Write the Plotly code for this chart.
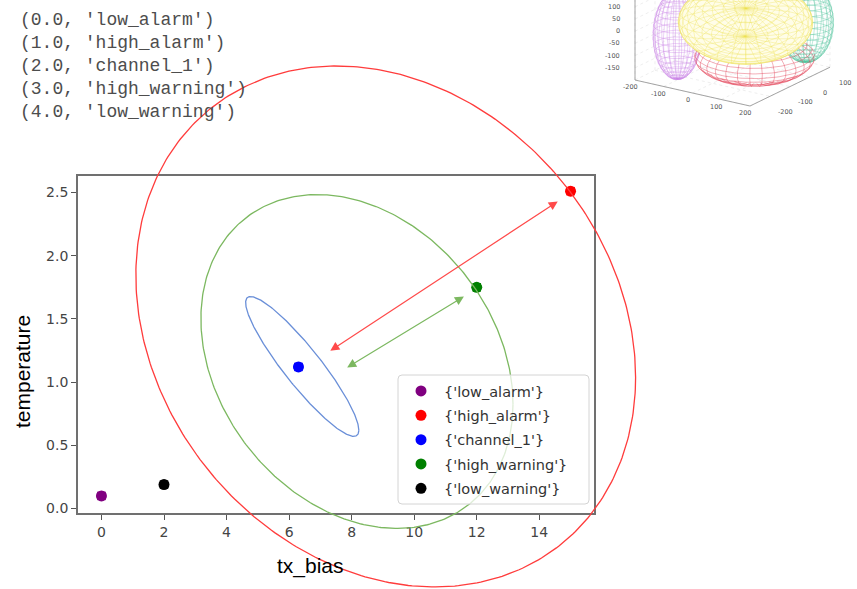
import numpy as np
import plotly.graph_objects as go

W, H = 857, 589

# ---------------- data ----------------
categories = ['low_alarm', 'high_alarm', 'channel_1', 'high_warning', 'low_warning']
category_codes = [0.0, 1.0, 2.0, 3.0, 4.0]
tx_bias = [0.0, 15.0, 6.3, 12.0, 2.0]
temperature = [0.10, 2.51, 1.12, 1.75, 0.19]
point_colors = ['#800080', '#ff0000', '#0000ff', '#008000', '#000000']

x_tick_vals = [0, 2, 4, 6, 8, 10, 12, 14]
y_tick_vals = [0.0, 0.5, 1.0, 1.5, 2.0, 2.5]

# confidence ellipses (data units): centre, half extents, phase between x and y
ell_cx = [9.09, 8.17, 6.42]
ell_cy = [1.44, 1.163, 1.124]
ell_rx = [7.99, 4.99, 1.81]
ell_ry = [2.06, 1.32, 0.553]
ell_phase_deg = [101.3, 104.8, 155.7]
ell_colors = ['#ff3c3c', '#7cb860', '#6a8fd8']

# double-headed arrows
arrow_head_x = [14.59, 11.59]
arrow_head_y = [2.429, 1.677]
arrow_tail_x = [7.27, 7.81]
arrow_tail_y = [1.24, 1.108]
arrow_colors = ['#ff4a4a', '#7cb860']

# 3D inset (ellipsoid wireframes), drawn back to front
inset_x_ticks = [-200, -100, 0, 100, 200]
inset_y_ticks = [-200, -100, 0, 100]
inset_z_ticks = [-150, -100, -50, 0, 50, 100]
ellipsoid_center = [(-150, -60, -58), (150, 150, -11), (10, 97, -165), (0, 65, -16)]
ellipsoid_radii = [(70, 70, 180), (80, 80, 160), (172, 172, 92), (192, 230, 67)]
ellipsoid_axis = [(0, 0, 1), (0, 0, 1), (0, 0, 1), (0.502, -0.753, -0.419)]
ellipsoid_line = ['rgba(200,130,230,0.65)', 'rgba(80,195,155,0.65)',
                  'rgba(225,60,80,0.75)', 'rgba(236,224,80,0.6)']
ellipsoid_fill = [None, None, None, 'rgba(255,253,232,1)']
ellipsoid_front_only = [False, False, True, False]
ellipsoid_grid = [(20, 24), (20, 24), (14, 30), (17, 28)]

# ---------------- layout geometry ----------------
X_RANGE = [-0.75, 15.75]
Y_RANGE = [-0.035, 2.63]
BOX_L, BOX_R, BOX_T, BOX_B = 78, 594, 176, 513
LEG_L, LEG_R, LEG_T, LEG_B = 398, 589, 375, 504

sx = (BOX_R - BOX_L) / (X_RANGE[1] - X_RANGE[0])
sy = (BOX_B - BOX_T) / (Y_RANGE[1] - Y_RANGE[0])
X2_RANGE = [X_RANGE[0] - BOX_L / sx, X_RANGE[1] + (W - BOX_R) / sx]
Y2_RANGE = [Y_RANGE[0] - (H - BOX_B) / sy, Y_RANGE[1] + BOX_T / sy]

fig = go.Figure()

# ellipses on a full-figure overlay so they are not clipped by the box
t = np.linspace(0, 2 * np.pi, 400)
for cx, cy, rx, ry, ph, col in zip(ell_cx, ell_cy, ell_rx, ell_ry, ell_phase_deg, ell_colors):
    fig.add_trace(go.Scatter(
        x=cx + rx * np.cos(t), y=cy + ry * np.cos(t - np.radians(ph)),
        mode='lines', line=dict(color=col, width=1.3),
        xaxis='x2', yaxis='y2', showlegend=False, hoverinfo='skip'))

# points
for name, x, y, c in zip(categories, tx_bias, temperature, point_colors):
    fig.add_trace(go.Scatter(
        x=[x], y=[y], mode='markers', name="{'%s'}" % name, legendgroup=name,
        marker=dict(symbol='circle', size=11, color=c), xaxis='x', yaxis='y'))
    fig.add_trace(go.Scatter(
        x=[x], y=[y], mode='markers', legendgroup=name, showlegend=False,
        marker=dict(symbol='square', size=8.5, color=c), xaxis='x', yaxis='y',
        hoverinfo='skip'))

annotations = []
for hx, hy, tx, ty, col in zip(arrow_head_x, arrow_head_y, arrow_tail_x, arrow_tail_y, arrow_colors):
    annotations.append(dict(
        x=hx, y=hy, ax=tx, ay=ty, xref='x', yref='y', axref='x', ayref='y',
        text='', showarrow=True, arrowhead=2, startarrowhead=2, arrowside='end+start',
        arrowsize=1.5, startarrowsize=1.5, arrowwidth=1.2, arrowcolor=col,
        standoff=0, startstandoff=0))

# printed tuples (top-left)
for i, (code, name) in enumerate(zip(category_codes, categories)):
    annotations.append(dict(
        x=18 / W, y=1 - (20 + 23.1 * i) / H, xref='paper', yref='paper',
        xanchor='left', yanchor='middle', showarrow=False,
        text="(%.1f, '%s')" % (code, name),
        font=dict(family='Liberation Mono, DejaVu Sans Mono, monospace', size=18, color='#4d4d4d')))

# axis titles
annotations.append(dict(x=310 / W, y=1 - 566 / H, xref='paper', yref='paper', showarrow=False,
                        xanchor='center', yanchor='middle',
                        text='tx_bias', font=dict(family='Liberation Sans, Arial', size=21, color='#000')))
annotations.append(dict(x=22 / W, y=1 - 372 / H, xref='paper', yref='paper', showarrow=False,
                        xanchor='center', yanchor='middle',
                        text='temperature', textangle=-90,
                        font=dict(family='Liberation Sans, Arial', size=21, color='#000')))

# ---------------- 3D inset ----------------
PROJ = np.array([[0.2875, 0.2, 0.0], [-0.065, 0.097, 0.244]])
VIEW = np.array([0.5, -0.75, 0.427])
VIEW = VIEW / np.linalg.norm(VIEW)


def proj(p):
    p = np.atleast_2d(np.asarray(p, float))
    q = p @ PROJ.T
    return q[:, 0], q[:, 1]


def nan_join(segs):
    xs, ys = [], []
    for su, sv in segs:
        xs.extend([None if np.isnan(v) else float(v) for v in su] + [None])
        ys.extend([None if np.isnan(v) else float(v) for v in sv] + [None])
    return xs, ys


# back-pane grid
grid = []
for g in inset_x_ticks:
    grid.append(proj([[g, -200, -200], [g, 200, -200]]))
    grid.append(proj([[g, 200, -200], [g, 200, 200]]))
for g in inset_x_ticks:
    grid.append(proj([[-200, g, -200], [200, g, -200]]))
    grid.append(proj([[-200, g, -200], [-200, g, 200]]))
for g in inset_z_ticks + [150]:
    grid.append(proj([[-200, -200, g], [-200, 200, g]]))
    grid.append(proj([[-200, 200, g], [200, 200, g]]))
gx, gy = nan_join(grid)
fig.add_trace(go.Scatter(x=gx, y=gy, mode='lines', line=dict(color='#e2e2e2', width=0.6, dash='dot'),
                         xaxis='x3', yaxis='y3', showlegend=False, hoverinfo='skip'))

edges = [proj([[-200, -200, -200], [200, -200, -200]]),
         proj([[200, -200, -200], [200, 200, -200]]),
         proj([[-200, -200, -200], [-200, -200, 200]])]
ex_, ey_ = nan_join(edges)
fig.add_trace(go.Scatter(x=ex_, y=ey_, mode='lines', line=dict(color='#9a9a9a', width=0.9),
                         xaxis='x3', yaxis='y3', showlegend=False, hoverinfo='skip'))

for c, r, ax_, lc, fc, front, (nlat, nlon) in zip(
        ellipsoid_center, ellipsoid_radii, ellipsoid_axis, ellipsoid_line,
        ellipsoid_fill, ellipsoid_front_only, ellipsoid_grid):
    c = np.array(c, float)
    n = np.array(ax_, float)
    n = n / np.linalg.norm(n)
    e1 = np.cross(n, [0, 0, 1])
    if np.linalg.norm(e1) < 1e-6:
        e1 = np.array([1.0, 0, 0])
    e1 = e1 / np.linalg.norm(e1)
    e2 = np.cross(n, e1)
    A = np.column_stack([r[0] * e1, r[1] * e2, r[2] * n])
    if fc is not None:
        S = PROJ @ A @ A.T @ PROJ.T
        L = np.linalg.cholesky(S)
        tt = np.linspace(0, 2 * np.pi, 200)
        cu, cv = proj(c)
        outline = L @ np.vstack([np.cos(tt), np.sin(tt)])
        fig.add_trace(go.Scatter(x=cu[0] + outline[0], y=cv[0] + outline[1], mode='lines',
                                 fill='toself', fillcolor=fc, line=dict(width=0.6, color=lc),
                                 xaxis='x3', yaxis='y3', showlegend=False, hoverinfo='skip'))

    def surf(th, ph):
        loc = np.stack([np.cos(th) * np.cos(ph), np.cos(th) * np.sin(ph), np.sin(th)], axis=-1)
        pts = c + loc @ A.T
        if front:
            keep = ((pts - c) @ VIEW) >= -1e-6
            pts = pts.copy()
            pts[~keep] = np.nan
        return pts

    segs = []
    ph_dense = np.linspace(0, 2 * np.pi, 140)
    th_dense = np.linspace(-np.pi / 2, np.pi / 2, 90)
    for th in np.linspace(-np.pi / 2, np.pi / 2, nlat + 2)[1:-1]:
        segs.append(proj(surf(np.full_like(ph_dense, th), ph_dense)))
    for ph in np.linspace(0, 2 * np.pi, nlon + 1)[:-1]:
        segs.append(proj(surf(th_dense, np.full_like(th_dense, ph))))
    xs, ys = nan_join(segs)
    fig.add_trace(go.Scatter(x=xs, y=ys, mode='lines', line=dict(color=lc, width=0.55),
                             connectgaps=False, xaxis='x3', yaxis='y3',
                             showlegend=False, hoverinfo='skip'))

inset_font = dict(family='DejaVu Sans', size=6.5, color='#555')
for g in inset_x_ticks:
    u, v = proj([g, -200, -200])
    annotations.append(dict(x=u[0], y=v[0], xref='x3', yref='y3', xshift=-5, yshift=-7,
                            text=str(g), showarrow=False, font=inset_font))
for g in inset_y_ticks:
    u, v = proj([200, g, -200])
    annotations.append(dict(x=u[0], y=v[0], xref='x3', yref='y3', xshift=35, yshift=-6,
                            text=str(g), showarrow=False, font=inset_font))
for g in inset_z_ticks:
    u, v = proj([-200, -200, g])
    annotations.append(dict(x=u[0], y=v[0], xref='x3', yref='y3', xshift=-13, yshift=0,
                            xanchor='right', text=str(g), showarrow=False, font=inset_font))

u0, v0 = proj([-200, -200, -200])
X3_RANGE = [u0[0] - 35, u0[0] + 222]
Y3_RANGE = [v0[0] - 50, v0[0] + 80]

# legend frame (rounded, semi-transparent like matplotlib)
rxp, ryp = 4 / W, 4 / H
x0, x1 = LEG_L / W, LEG_R / W
y0, y1 = 1 - LEG_B / H, 1 - LEG_T / H
frame_path = (f"M{x0 + rxp},{y1} L{x1 - rxp},{y1} Q{x1},{y1} {x1},{y1 - ryp} "
              f"L{x1},{y0 + ryp} Q{x1},{y0} {x1 - rxp},{y0} L{x0 + rxp},{y0} "
              f"Q{x0},{y0} {x0},{y0 + ryp} L{x0},{y1 - ryp} Q{x0},{y1} {x0 + rxp},{y1} Z")
shapes = [dict(type='path', path=frame_path, xref='paper', yref='paper', layer='above',
               fillcolor='rgba(255,255,255,0.75)', line=dict(color='#d4d4d4', width=1))]

tickfont = dict(family='DejaVu Sans', size=14, color='#444')
fig.update_layout(
    width=W, height=H, margin=dict(l=0, r=0, t=0, b=0, autoexpand=False),
    paper_bgcolor='white', plot_bgcolor='rgba(0,0,0,0)',
    xaxis=dict(domain=[BOX_L / W, BOX_R / W], range=X_RANGE, tickvals=x_tick_vals,
               ticks='outside', ticklen=5, tickwidth=1.2, tickcolor='#555',
               showline=True, mirror=True, linecolor='#707070', linewidth=1.8,
               showgrid=False, zeroline=False, tickfont=tickfont, anchor='y', automargin=False),
    yaxis=dict(domain=[1 - BOX_B / H, 1 - BOX_T / H], range=Y_RANGE, tickvals=y_tick_vals,
               tickformat='.1f', ticks='outside', ticklen=5, tickwidth=1.2, tickcolor='#555',
               showline=True, mirror=True, linecolor='#707070', linewidth=1.8,
               showgrid=False, zeroline=False, tickfont=tickfont, anchor='x', automargin=False),
    xaxis2=dict(domain=[0, 1], range=X2_RANGE, visible=False, anchor='y2'),
    yaxis2=dict(domain=[0, 1], range=Y2_RANGE, visible=False, anchor='x2'),
    xaxis3=dict(domain=[600 / W, 1], range=X3_RANGE, visible=False, anchor='y3'),
    yaxis3=dict(domain=[1 - 130 / H, 1], range=Y3_RANGE, visible=False, anchor='x3'),
    legend=dict(x=LEG_L / W, y=1 - LEG_T / H, xanchor='left', yanchor='top',
                bgcolor='rgba(0,0,0,0)', borderwidth=0, itemwidth=36,
                font=dict(family='DejaVu Sans', size=14.5, color='#333'),
                tracegroupgap=2.5),
    annotations=annotations,
    shapes=shapes,
    showlegend=True,
)

fig.write_html('out.html', config={'displayModeBar': False},
               post_script="document.body.style.margin='0px';")
